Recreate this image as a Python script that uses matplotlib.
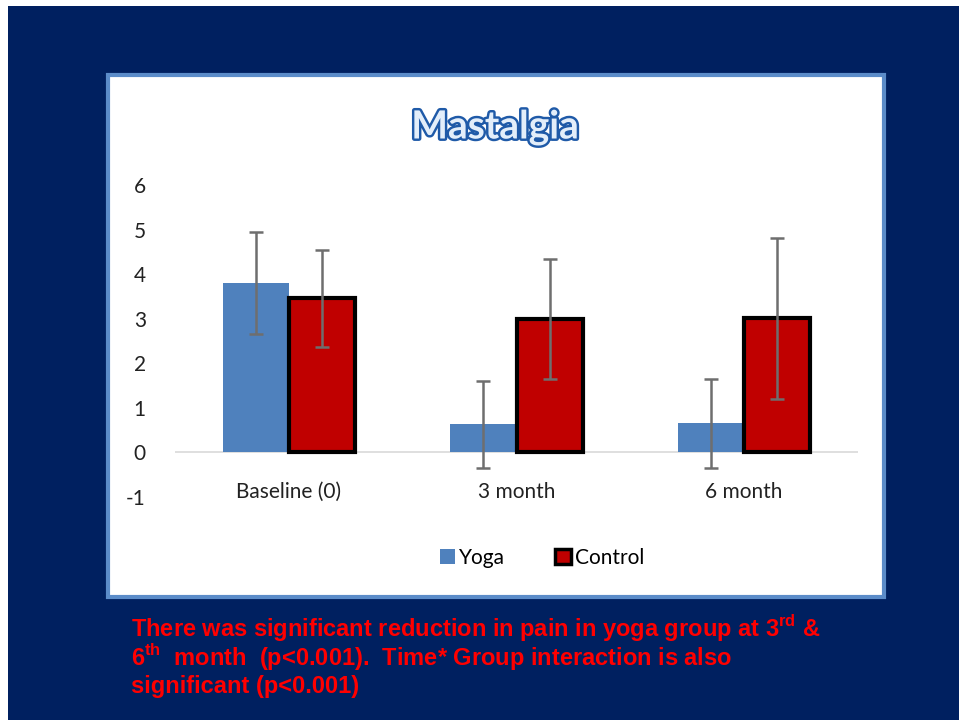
import matplotlib
matplotlib.use("Agg")
import matplotlib.pyplot as plt
import matplotlib.patheffects as pe
from matplotlib.patches import Rectangle, Patch
import numpy as np

# data
categories = ["Baseline (0)", "3 month", "6 month"]
yoga = [3.80, 0.63, 0.65]
yoga_err = [1.15, 0.98, 1.00]
control = [3.46, 2.99, 3.01]
control_err = [1.09, 1.34, 1.81]

NAVY = "#002060"
BLUE = "#4f81bd"
RED = "#c00000"

plt.rcParams["mathtext.fontset"] = "custom"
plt.rcParams["mathtext.bf"] = "Liberation Sans:bold"
plt.rcParams["mathtext.rm"] = "Liberation Sans:bold"
plt.rcParams["axes.unicode_minus"] = False

W, H = 959, 720
fig = plt.figure(figsize=(W / 100, H / 100), dpi=100, facecolor="white")


def px(x0, y0, x1, y1):
    # pixel box (top-left origin) -> figure fraction rect
    return (x0 / W, 1 - y1 / H), (x1 - x0) / W, (y1 - y0) / H


# slide background
xy, w, h = px(8, 6, W, H)
fig.patches.append(Rectangle(xy, w, h, transform=fig.transFigure,
                             facecolor=NAVY, edgecolor="none", zorder=0))
# white chart panel with blue frame
xy, w, h = px(108, 75, 884, 597)
fig.patches.append(Rectangle(xy, w, h, transform=fig.transFigure,
                             facecolor="white", edgecolor="#5b8cc9",
                             linewidth=3, zorder=1))

ax = fig.add_axes([175 / W, 1 - 497 / H, (858 - 175) / W, (497 - 185) / H])
ax.set_zorder(2)
ax.patch.set_visible(False)

x = np.arange(len(categories))
bw = 0.29
ekw = dict(ecolor="#6e6e6e", elinewidth=1.8, capsize=5, capthick=1.8)
ax.bar(x - bw / 2, yoga, bw, color=BLUE, yerr=yoga_err, error_kw=ekw, zorder=3)
ax.bar(x + bw / 2, control, bw, color=RED, edgecolor="black", linewidth=3,
       yerr=control_err, error_kw=ekw, zorder=3)

ax.set_xlim(-0.5, 2.5)
ax.set_ylim(-1, 6)
ax.axhline(0, color="#d9d9d9", linewidth=1.2, zorder=2)
for s in ax.spines.values():
    s.set_visible(False)
ax.set_yticks(range(-1, 7))
ax.set_xticks(x)
ax.set_xticklabels(categories)
ax.tick_params(length=0, labelsize=15, colors="#222222")
ax.tick_params(axis="y", pad=21)
ax.tick_params(axis="x", pad=-11)
for lab in ax.get_xticklabels() + ax.get_yticklabels():
    lab.set_family("Lato")

handles = [Patch(facecolor=BLUE, edgecolor="none"),
           Patch(facecolor=RED, edgecolor="black", linewidth=2.5)]
fig.legend(handles, ["Yoga", "Control"], loc="center",
           bbox_to_anchor=(542 / W, 1 - 558 / H), ncol=2, frameon=False,
           prop={"family": "Lato", "size": 15}, handlelength=0.75,
           handleheight=0.75, handletextpad=0.2, columnspacing=2.4)

fig.text(495 / W, 1 - 127 / H, "Mastalgia", ha="center", va="center",
         fontsize=28, fontweight="bold", family="Lato", color="#e3eefa",
         path_effects=[pe.withStroke(linewidth=3.5, foreground="#1f5aa8")],
         zorder=5)

note = [r"There was significant reduction in pain in yoga group at 3$^{\mathbf{rd}}$ &",
        r"6$^{\mathbf{th}}$  month  (p<0.001).  Time* Group interaction is also",
        r"significant (p<0.001)"]
for i, line in enumerate(note):
    fig.text(131 / W, 1 - (628 + 29 * i) / H, line, ha="left", va="center",
             fontsize=17, fontweight="bold", family="Liberation Sans",
             color="#ff0000")

fig.savefig("out.png", dpi=100)
